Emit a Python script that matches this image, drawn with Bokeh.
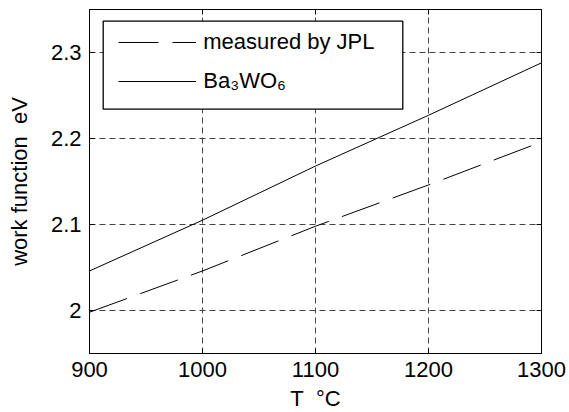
from bokeh.plotting import figure
from bokeh.embed import file_html
from bokeh.resources import INLINE
from bokeh.models import LinearAxis, Legend, LegendItem, FixedTicker, Range1d, BoxAnnotation

temperature = [900, 1000, 1100, 1200, 1300]
jpl_measured = [1.998, 2.046, 2.098, 2.146, 2.196]
ba3wo6 = [2.046, 2.105, 2.168, 2.227, 2.288]
x_ticks = [900, 1000, 1100, 1200, 1300]
y_ticks = [2.0, 2.1, 2.2, 2.3]

FONT = "Liberation Sans"
FS = "22px"

p = figure(frame_width=452, frame_height=344, output_backend="svg", toolbar_location=None,
           x_range=Range1d(900, 1300), y_range=Range1d(1.95, 2.35),
           min_border_left=89, min_border_right=28, min_border_top=9, min_border_bottom=59,
           background_fill_color="white", border_fill_color="white")
p.outline_line_color = "black"
p.outline_line_width = 1

r1 = p.line(temperature, jpl_measured, line_color="black", line_width=1, line_dash="40 14")
r2 = p.line(temperature, ba3wo6, line_color="black", line_width=1)

for ax in [p.xaxis[0], p.yaxis[0]]:
    ax.major_label_text_font = FONT
    ax.major_label_text_font_size = FS
    ax.major_label_text_color = "black"
    ax.axis_label_text_font = FONT
    ax.axis_label_text_font_size = FS
    ax.axis_label_text_font_style = "normal"
    ax.axis_label_text_color = "black"
    ax.major_tick_in = 5
    ax.major_tick_out = 0
    ax.minor_tick_line_color = None
    ax.axis_line_color = "black"
    ax.major_tick_line_color = "black"
    ax.major_label_standoff = 8

p.xaxis[0].ticker = FixedTicker(ticks=x_ticks)
p.yaxis[0].ticker = FixedTicker(ticks=y_ticks)
p.xaxis[0].major_label_overrides = {900: "900", 1000: "1000", 1100: "1100", 1200: "1200", 1300: "1300"}
p.yaxis[0].major_label_overrides = {2.0: "2", 2.1: "2.1", 2.2: "2.2", 2.3: "2.3"}
p.xaxis[0].axis_label = "T\u00a0 °C"
p.yaxis[0].axis_label = "work function\u00a0 eV"
p.xaxis[0].axis_label_standoff = 6
p.yaxis[0].axis_label_standoff = 16

for side, ticks in [("right", y_ticks), ("above", x_ticks)]:
    ax = LinearAxis(ticker=FixedTicker(ticks=ticks), major_label_text_color=None,
                    major_label_text_font_size="1px",
                    major_tick_in=5, major_tick_out=0, minor_tick_line_color=None,
                    axis_line_color="black", major_tick_line_color="black",
                    major_label_standoff=0)
    p.add_layout(ax, side)

p.xgrid.ticker = FixedTicker(ticks=x_ticks)
p.ygrid.ticker = FixedTicker(ticks=y_ticks)
for g in [p.xgrid[0], p.ygrid[0]]:
    g.grid_line_color = "#444444"
    g.grid_line_dash = "6 4"
    g.grid_line_width = 1

# legend frame (screen units relative to the plot frame)
box = BoxAnnotation(left=13.7, right=313.3, top=332.3, bottom=244.3,
                    left_units="screen", right_units="screen",
                    top_units="screen", bottom_units="screen",
                    fill_color="white", fill_alpha=1,
                    line_color="black", line_alpha=1, line_width=1.3,
                    level="annotation")
p.add_layout(box)

legend = Legend(items=[LegendItem(label="measured by JPL", renderers=[r1]),
                       LegendItem(label="Ba₃WO₆", renderers=[r2])],
                location=(29.3, 257.3))
legend.label_text_font = FONT
legend.label_text_font_size = FS
legend.label_text_color = "black"
legend.glyph_width = 78
legend.glyph_height = 30
legend.label_height = 30
legend.label_standoff = 7
legend.padding = 0
legend.spacing = 9
legend.border_line_color = None
legend.background_fill_alpha = 0
p.add_layout(legend)

open("out.html", "w").write(file_html(p, INLINE))
